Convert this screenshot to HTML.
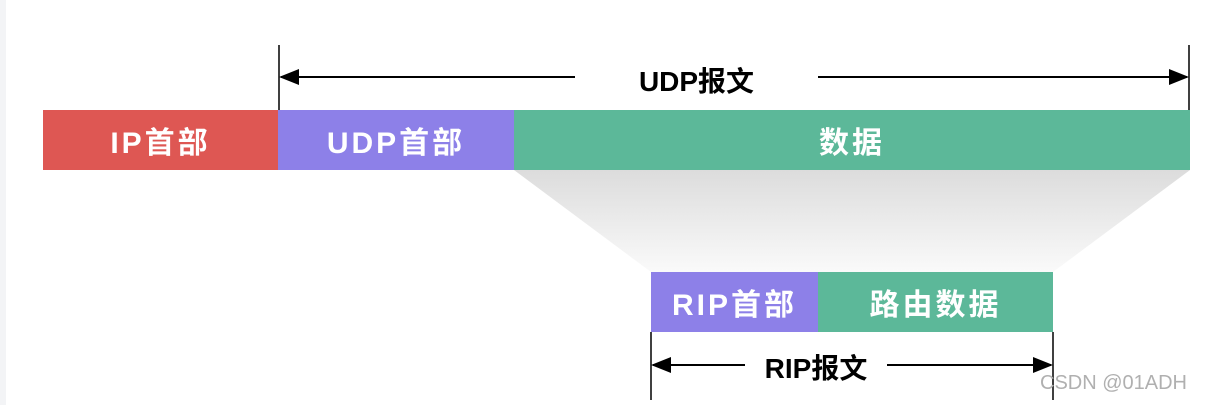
<!DOCTYPE html>
<html><head><meta charset="utf-8"><style>
html,body{margin:0;padding:0;background:#fff;}
body{width:1207px;height:405px;position:relative;overflow:hidden;font-family:"Liberation Sans","Noto Sans CJK SC",sans-serif;}
.b{position:absolute;color:#fff;font-weight:bold;font-size:30px;display:flex;align-items:center;justify-content:center;letter-spacing:3px;}
.t{position:absolute;font-weight:bold;font-size:28px;color:#000;}
</style></head><body>
<div style="position:absolute;left:0;top:0;width:6px;height:405px;background:#f3f4f6"></div>
<svg width="1207" height="405" style="position:absolute;left:0;top:0">
<defs>
<linearGradient id="g" x1="0" y1="0" x2="0" y2="1"><stop offset="0" stop-color="#dcdcdc"/><stop offset="1" stop-color="#fafafa"/></linearGradient>
<marker id="a" markerWidth="10" markerHeight="8" refX="9" refY="4" orient="auto"><path d="M0,0L10,4L0,8z" fill="#000"/></marker>
</defs>
<polygon points="514,170 1190,170 1053,272 651,272" fill="url(#g)"/>
<line x1="279" y1="45" x2="279" y2="110" stroke="#000" stroke-width="1.5"/>
<line x1="1189" y1="45" x2="1189" y2="110" stroke="#000" stroke-width="1.5"/>
<line x1="575" y1="77" x2="281" y2="77" stroke="#000" stroke-width="2" marker-end="url(#a)"/>
<line x1="818" y1="77" x2="1187" y2="77" stroke="#000" stroke-width="2" marker-end="url(#a)"/>
<line x1="651" y1="332" x2="651" y2="400" stroke="#000" stroke-width="1.5"/>
<line x1="1053" y1="332" x2="1053" y2="400" stroke="#000" stroke-width="1.5"/>
<line x1="745" y1="365" x2="653" y2="365" stroke="#000" stroke-width="2" marker-end="url(#a)"/>
<line x1="887" y1="365" x2="1051" y2="365" stroke="#000" stroke-width="2" marker-end="url(#a)"/>
</svg>
<div class="b" style="left:43px;top:110px;width:235px;height:60px;background:#de5753">IP首部</div>
<div class="b" style="left:278px;top:110px;width:236px;height:60px;background:#8d80e8">UDP首部</div>
<div class="b" style="left:514px;top:110px;width:676px;height:60px;background:#5cb899">数据</div>
<div class="b" style="left:651px;top:272px;width:167px;height:60px;background:#8d80e8">RIP首部</div>
<div class="b" style="left:818px;top:272px;width:235px;height:60px;background:#5cb899">路由数据</div>
<div class="t" style="left:575px;top:60px;width:243px;text-align:center">UDP报文</div>
<div class="t" style="left:745px;top:347px;width:142px;text-align:center">RIP报文</div>
<div style="position:absolute;left:1040px;top:372px;font-size:20px;color:#b0b0b0">CSDN @01ADH</div>
</body></html>
